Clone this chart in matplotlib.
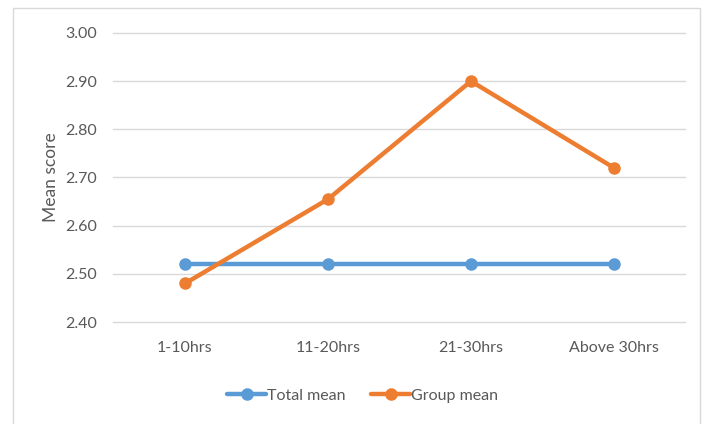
import matplotlib

matplotlib.use("Agg")
import matplotlib.pyplot as plt
from matplotlib.patches import Rectangle

categories = ["1-10hrs", "11-20hrs", "21-30hrs", "Above 30hrs"]
total_mean = [2.52, 2.52, 2.52, 2.52]
group_mean = [2.48, 2.655, 2.90, 2.72]
yticks = [2.40, 2.50, 2.60, 2.70, 2.80, 2.90, 3.00]

BLUE = "#5B9BD5"
ORANGE = "#ED7D31"
TEXT = "#595959"

plt.rcParams["font.family"] = ["Lato", "DejaVu Sans"]

fig = plt.figure(figsize=(7.12, 4.24), dpi=100)
fig.patches.append(Rectangle((13 / 712, -0.01), 687 / 712, 1 - 8 / 424 + 0.01,
                             transform=fig.transFigure, fill=False,
                             edgecolor="#d9d9d9", linewidth=1.0))
ax = fig.add_axes([113.5 / 712, 1 - 322 / 424, 572 / 712, 289 / 424])

x = range(len(categories))
ax.plot(x, total_mean, color=BLUE, linewidth=3.2, marker="o", markersize=8,
        label="Total mean", solid_capstyle="round", zorder=3)
ax.plot(x, group_mean, color=ORANGE, linewidth=3.2, marker="o", markersize=8,
        label="Group mean", solid_capstyle="round", zorder=4)

ax.set_xlim(-0.5, len(categories) - 0.5)
ax.set_ylim(2.40, 3.00)
ax.set_yticks(yticks)
ax.set_yticklabels([f"{v:.2f}" for v in yticks])
ax.set_xticks(list(x))
ax.set_xticklabels(categories)
ax.grid(axis="y", color="#d9d9d9", linewidth=1.0)
for line in ax.get_ygridlines():
    line.set_clip_on(False)
ax.set_axisbelow(True)
for side in ax.spines.values():
    side.set_visible(False)
ax.tick_params(length=0, colors=TEXT, labelsize=11.5)
ax.tick_params(axis="y", pad=12)
ax.tick_params(axis="x", pad=14)
ax.set_ylabel("Mean score", color=TEXT, fontsize=12.5, labelpad=4)

ax.legend(loc="upper center", bbox_to_anchor=(0.436, -0.18), ncol=2, frameon=False,
          fontsize=11.5, labelcolor=TEXT, handlelength=2.4, handletextpad=0.1,
          columnspacing=1.6)

fig.savefig("out.png", dpi=100)
